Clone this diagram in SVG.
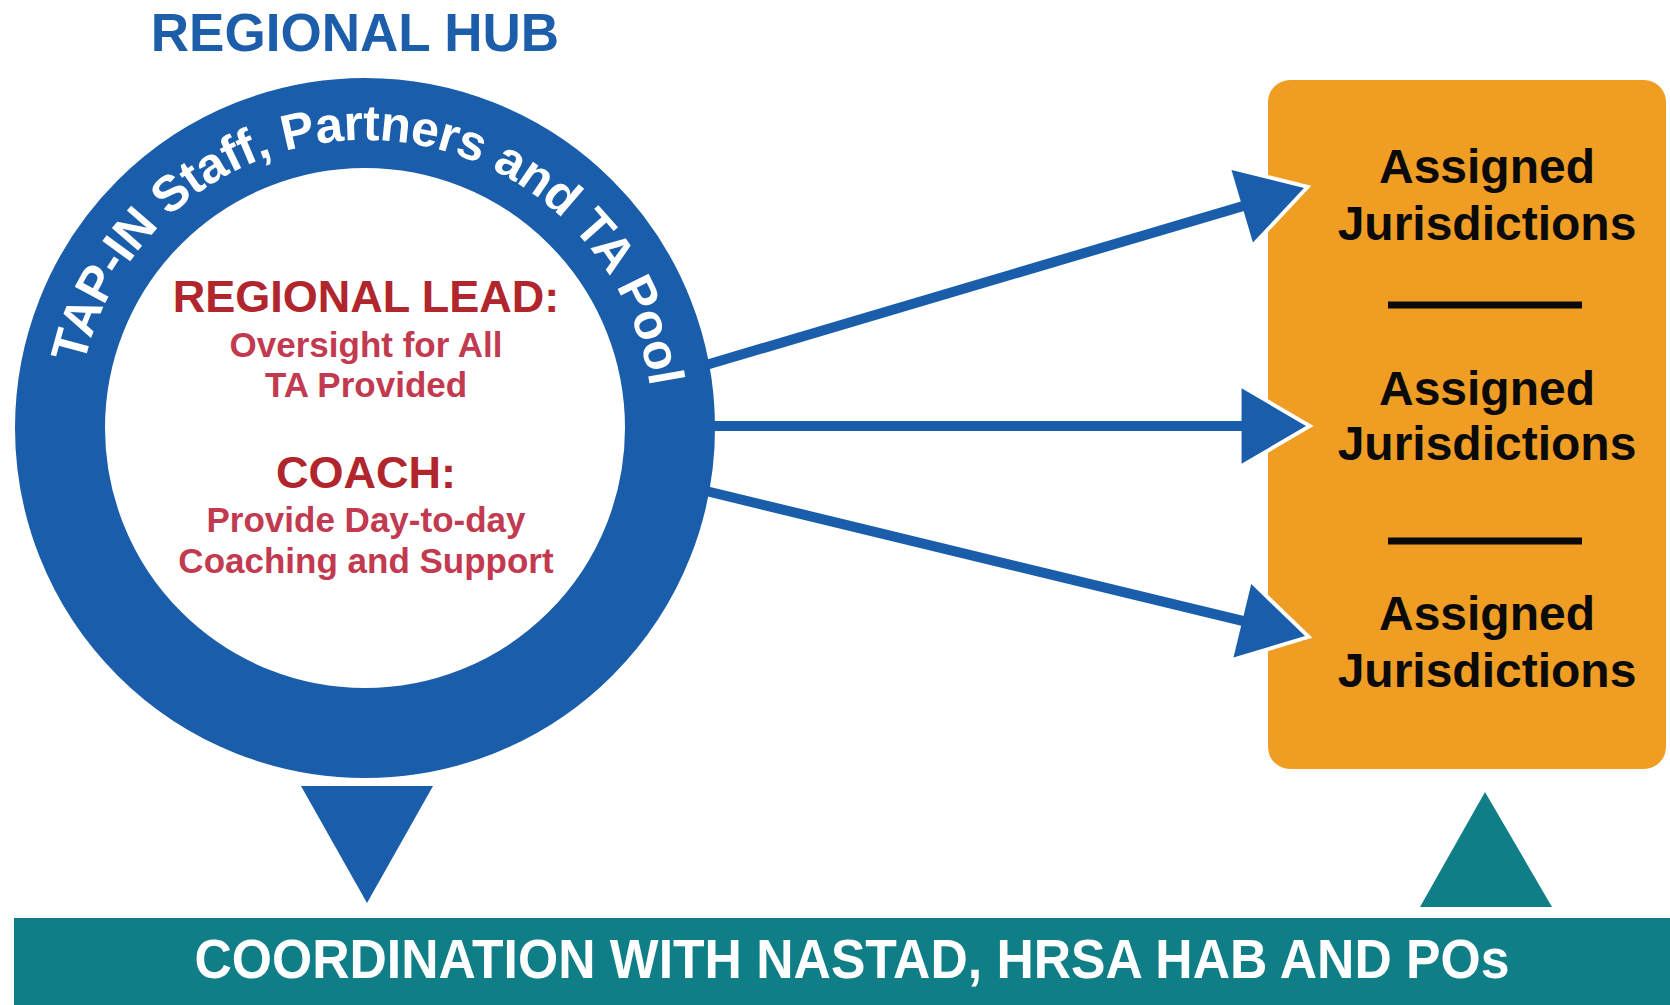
<svg xmlns="http://www.w3.org/2000/svg" width="1670" height="1005" viewBox="0 0 1670 1005">
<style>
text{font-family:"Liberation Sans",Arial,Helvetica,sans-serif;font-weight:bold;text-anchor:middle}
.title{fill:#1C5EA9;font-size:53px}
.ring{fill:none;stroke:#1A5DAA;stroke-width:90}
.ringtxt{fill:#fff;font-size:50px;letter-spacing:-0.6px}
.role{fill:#B0262C;font-size:45px}
.desc{fill:#C23A50;font-size:35px}
.box{fill:#F09D24}
.jur{fill:#0a0a0a;font-size:48px}
.dash{stroke:#0a0a0a;stroke-width:7}
.conn{stroke:#1A5DAA;stroke-width:10;fill:none}
.bar{fill:#0F7E86}
.bartxt{fill:#fff;font-size:55px}
</style>
<defs>
<marker id="ah" markerUnits="userSpaceOnUse" markerWidth="90" markerHeight="100" viewBox="-8 -8 80 90" refX="58" refY="34" orient="auto" overflow="visible">
<path d="M0,0 L58,34 L0,68" fill="none" stroke="#fff" stroke-width="7" stroke-linejoin="miter"/>
<path d="M0,0 L58,34 L0,68 Z" fill="#1A5DAA"/>
</marker>
<path id="arc" d="M 77,428 A 288,288 0 0 1 653,428"/>
</defs>

<g id="title">
<text class="title" x="355" y="51">REGIONAL HUB</text>
</g>

<g id="hub">
<circle class="ring" cx="365" cy="428" r="305"/>
<text class="ringtxt"><textPath href="#arc" startOffset="51.2%">TAP-IN Staff, Partners and TA Pool</textPath></text>
<text class="role" x="366" y="312">REGIONAL LEAD:</text>
<text class="desc" x="366" y="357">Oversight for All</text>
<text class="desc" x="366" y="397">TA Provided</text>
<text class="role" x="366" y="488">COACH:</text>
<text class="desc" x="366" y="532">Provide Day-to-day</text>
<text class="desc" x="366" y="573">Coaching and Support</text>
</g>

<g id="jurisdictions">
<rect class="box" x="1268" y="80" width="398" height="689" rx="22"/>
<text class="jur" x="1487" y="183">Assigned</text>
<text class="jur" x="1487" y="240">Jurisdictions</text>
<line class="dash" x1="1388" y1="305" x2="1582" y2="305"/>
<text class="jur" x="1487" y="405">Assigned</text>
<text class="jur" x="1487" y="460">Jurisdictions</text>
<line class="dash" x1="1388" y1="541" x2="1582" y2="541"/>
<text class="jur" x="1487" y="630">Assigned</text>
<text class="jur" x="1487" y="687">Jurisdictions</text>
</g>

<g id="coordination">
<rect class="bar" x="14" y="918" width="1656" height="87"/>
<text class="bartxt" x="852" y="978" textLength="1315" lengthAdjust="spacingAndGlyphs">COORDINATION WITH NASTAD, HRSA HAB AND POs</text>
</g>

<g id="connectors">
<line class="conn" x1="706" y1="365" x2="1304" y2="188" marker-end="url(#ah)"/>
<line class="conn" x1="712" y1="426" x2="1306" y2="426" marker-end="url(#ah)"/>
<line class="conn" x1="706" y1="491" x2="1305" y2="636" marker-end="url(#ah)"/>
<polygon fill="#1A5DAA" points="301,786 433,786 367,903"/>
<polygon fill="#0F7E86" points="1485,792 1420,907 1552,907"/>
</g>
</svg>
